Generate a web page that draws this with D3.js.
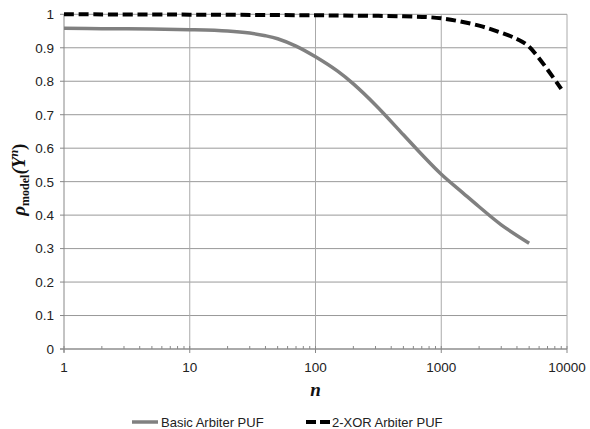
<!DOCTYPE html>
<html>
<head>
	<meta charset="utf-8">
	<title>rho model vs n</title>
	<script src="https://cdn.jsdelivr.net/npm/d3@7"></script>
	<style type="text/css">
		body { margin: 0; background: white; }
		.tick-label { font-family: "Liberation Sans", Arial, sans-serif; font-size: 13.5px; fill: #222; }
		.legend-text { font-family: "Liberation Sans", Arial, sans-serif; font-size: 13px; fill: #222; }
		.title-serif { font-family: "Liberation Serif", "Times New Roman", serif; font-weight: bold; fill: #111; }
	</style>
</head>
<body>

	<svg width=590 height=429 class="chart"></svg>

	<script type="text/javascript">

		// Basic Arbiter PUF (grey solid)
		basicN   = [1, 2, 5, 10, 20, 30, 40, 50, 70, 100, 150, 200, 300, 500, 700, 1000, 1500, 2000, 3000, 5000]
		basicRho = [0.958, 0.957, 0.956, 0.954, 0.950, 0.944, 0.936, 0.927, 0.905, 0.873, 0.83, 0.792, 0.729, 0.64, 0.581, 0.522, 0.465, 0.425, 0.371, 0.316]

		// 2-XOR Arbiter PUF (black dashed)
		xorN   = [1, 10, 100, 200, 500, 1000, 2000, 3000, 4000, 5000, 9000]
		xorRho = [1.0, 0.999, 0.997, 0.996, 0.994, 0.988, 0.966, 0.945, 0.926, 0.903, 0.777]

		xMajor = [1, 10, 100, 1000, 10000]
		yTicks = [0, 0.1, 0.2, 0.3, 0.4, 0.5, 0.6, 0.7, 0.8, 0.9, 1]
		seriesNames = ['Basic Arbiter PUF', '2-XOR Arbiter PUF']

		margin = {'top': 14.3, 'right': 23, 'bottom': 80, 'left': 64}
		svg = d3.select('.chart')
		W = +svg.attr('width'), H = +svg.attr('height')

		x = d3.scaleLog().domain([1, 10000]).range([margin.left, W - margin.right])
		y = d3.scaleLinear().domain([0, 1]).range([H - margin.bottom, margin.top])

		// minor ticks 2..9 per decade
		xMinor = []
		for (var d = 1; d < 10000; d *= 10) {
			for (var k = 2; k < 10; k++) xMinor.push(d * k)
		}

		var grid = svg.append('g')
		grid.selectAll('.hgrid').data(yTicks).enter().append('line')
			.attr('x1', x(1)).attr('x2', x(10000))
			.attr('y1', function(d) { return y(d) }).attr('y2', function(d) { return y(d) })
			.attr('stroke', '#999').attr('stroke-width', 1)
		grid.selectAll('.vgrid').data(xMajor.slice(1)).enter().append('line')
			.attr('x1', function(d) { return x(d) }).attr('x2', function(d) { return x(d) })
			.attr('y1', y(1)).attr('y2', y(0))
			.attr('stroke', '#aaa').attr('stroke-width', 1)

		// axes lines
		svg.append('line').attr('x1', x(1)).attr('x2', x(1)).attr('y1', y(1)).attr('y2', y(0) + 3.5)
			.attr('stroke', '#888').attr('stroke-width', 1)
		svg.append('line').attr('x1', x(1) - 4).attr('x2', x(10000)).attr('y1', y(0)).attr('y2', y(0))
			.attr('stroke', '#888').attr('stroke-width', 1)

		// y ticks
		svg.selectAll('.ytick').data(yTicks).enter().append('line')
			.attr('x1', x(1) - 4).attr('x2', x(1))
			.attr('y1', function(d) { return y(d) }).attr('y2', function(d) { return y(d) })
			.attr('stroke', '#888')
		svg.selectAll('.ylab').data(yTicks).enter().append('text')
			.attr('class', 'tick-label')
			.attr('x', x(1) - 10).attr('y', function(d) { return y(d) })
			.attr('dy', '0.36em').attr('text-anchor', 'end')
			.text(function(d) { return d3.format('')(d) })

		// x ticks
		svg.selectAll('.xmaj').data(xMajor).enter().append('line')
			.attr('x1', function(d) { return x(d) }).attr('x2', function(d) { return x(d) })
			.attr('y1', y(0) - 3).attr('y2', y(0) + 4)
			.attr('stroke', '#888')
		svg.selectAll('.xmin').data(xMinor).enter().append('line')
			.attr('x1', function(d) { return x(d) }).attr('x2', function(d) { return x(d) })
			.attr('y1', y(0) - 3).attr('y2', y(0))
			.attr('stroke', '#888')
		svg.selectAll('.xlab').data(xMajor).enter().append('text')
			.attr('class', 'tick-label')
			.attr('x', function(d) { return x(d) }).attr('y', y(0) + 23)
			.attr('text-anchor', 'middle')
			.text(function(d) { return d })

		// lines
		var line = d3.line()
			.x(function(d) { return x(d[0]) })
			.y(function(d) { return y(d[1]) })
			.curve(d3.curveCatmullRom.alpha(0.5))

		svg.append('path')
			.datum(d3.zip(basicN, basicRho))
			.attr('d', line)
			.attr('fill', 'none').attr('stroke', '#808080').attr('stroke-width', 3.5)
			.attr('stroke-linejoin', 'round')

		svg.append('path')
			.datum(d3.zip(xorN, xorRho))
			.attr('d', line)
			.attr('fill', 'none').attr('stroke', '#000').attr('stroke-width', 4)
			.attr('stroke-dasharray', '10,4.7')

		// axis titles
		svg.append('text').attr('class', 'title-serif')
			.attr('x', (x(1) + x(10000)) / 2).attr('y', 396)
			.attr('text-anchor', 'middle')
			.style('font-size', '19px').style('font-style', 'italic')
			.text('n')

		var yt = svg.append('text').attr('class', 'title-serif')
			.attr('transform', 'translate(25,' + (y(0.5) - 2) + ') rotate(-90)')
			.attr('text-anchor', 'middle')
			.style('font-size', '19px')
		yt.append('tspan').style('font-style', 'italic').text('ρ')
		yt.append('tspan').style('font-size', '12px').attr('dy', 4).text('model')
		yt.append('tspan').style('font-style', 'italic').attr('dy', -4).text('(Y')
		yt.append('tspan').style('font-style', 'italic').style('font-size', '12px').attr('dy', -7).text('n')
		yt.append('tspan').attr('dy', 7).text(')')

		// legend
		var leg = svg.append('g')
		leg.append('line').attr('x1', 132).attr('x2', 158).attr('y1', 422).attr('y2', 422)
			.attr('stroke', '#808080').attr('stroke-width', 3.5)
		leg.append('text').attr('class', 'legend-text').attr('x', 161).attr('y', 426.5).text(seriesNames[0])
		leg.append('line').attr('x1', 306).attr('x2', 330).attr('y1', 422).attr('y2', 422)
			.attr('stroke', '#000').attr('stroke-width', 4).attr('stroke-dasharray', '10,4')
		leg.append('text').attr('class', 'legend-text').attr('x', 332).attr('y', 426.5).text(seriesNames[1])

	</script>

</body>
</html>
